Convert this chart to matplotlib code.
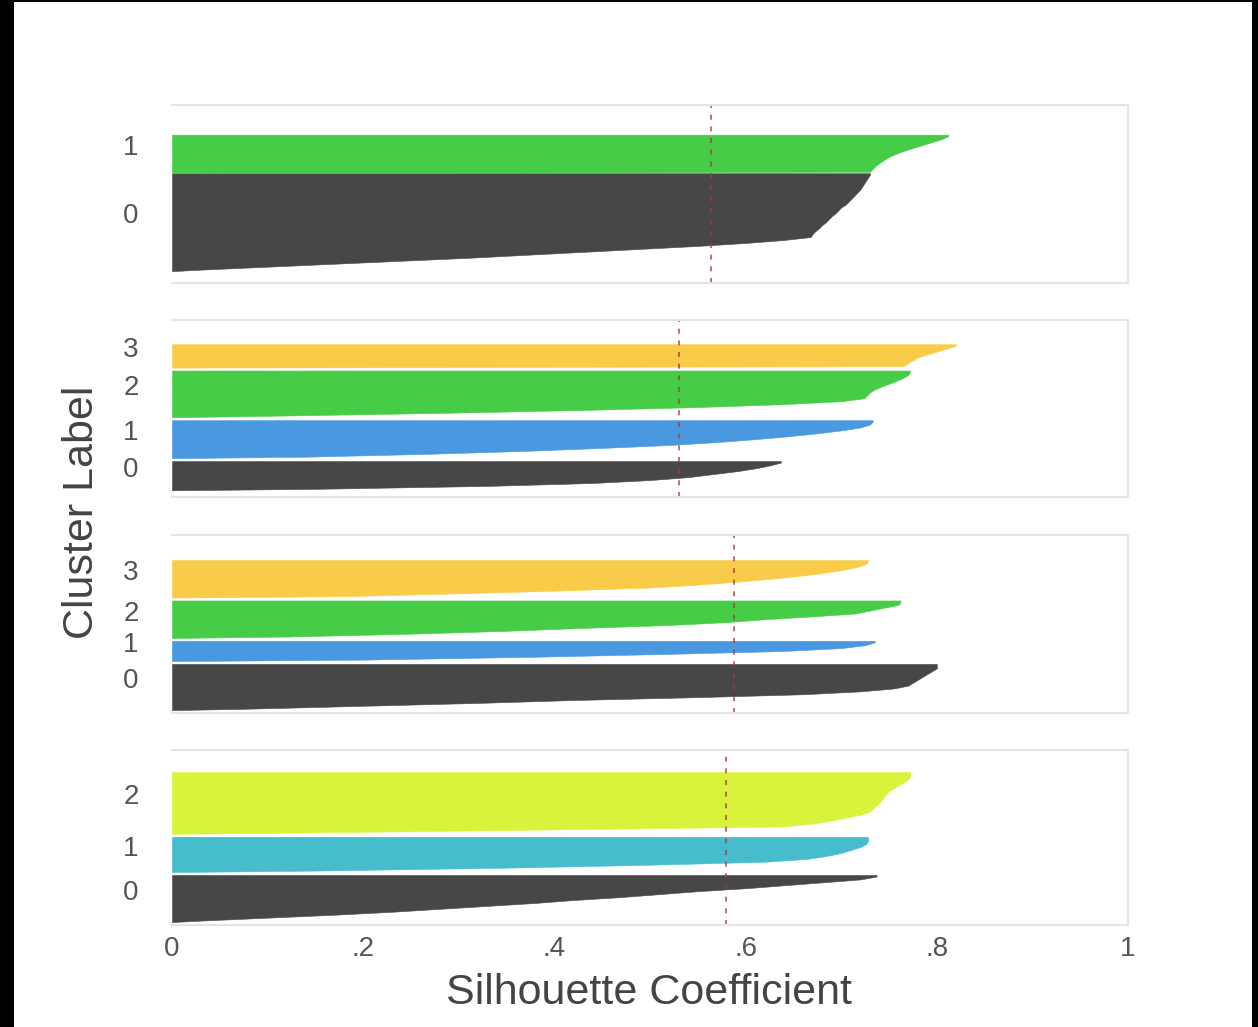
import numpy as np
import matplotlib
matplotlib.use('Agg')
import matplotlib.pyplot as plt
from matplotlib.patches import Rectangle

plt.rcParams['font.family'] = ['Liberation Sans', 'DejaVu Sans']

# silhouette values per cluster (one value per sample)
# panel 1 : k = 2
p1_c0 = [0.73, 0.728, 0.726, 0.724, 0.722, 0.72, 0.717, 0.714, 0.711, 0.708, 0.705,
         0.70, 0.697, 0.694, 0.69, 0.687, 0.684, 0.68, 0.677, 0.673, 0.67, 0.668,
         0.64, 0.60, 0.55, 0.49, 0.43, 0.37, 0.31, 0.24, 0.17, 0.10, 0.03]
p1_c1 = [0.812, 0.805, 0.795, 0.785, 0.775, 0.765, 0.757, 0.75, 0.745, 0.74, 0.736,
         0.733, 0.73]

# panel 2 : k = 4
p2_c0 = [0.637, 0.625, 0.61, 0.59, 0.565, 0.54, 0.50, 0.44, 0.33, 0.15]
p2_c1 = [0.733, 0.73, 0.72, 0.70, 0.675, 0.645, 0.61, 0.57, 0.52, 0.45, 0.37, 0.27, 0.14]
p2_c2 = [0.772, 0.77, 0.765, 0.758, 0.75, 0.742, 0.735, 0.73, 0.727, 0.724, 0.70,
         0.64, 0.55, 0.43, 0.28, 0.10]
p2_c3 = [0.82, 0.81, 0.80, 0.79, 0.78, 0.775, 0.77, 0.765]

# panel 3 : k = 4
p3_c0 = [0.80, 0.80, 0.795, 0.79, 0.785, 0.78, 0.775, 0.77, 0.755, 0.72, 0.66,
         0.55, 0.42, 0.32, 0.20, 0.08]
p3_c1 = [0.735, 0.725, 0.70, 0.64, 0.52, 0.38, 0.20]
p3_c2 = [0.762, 0.76, 0.745, 0.73, 0.715, 0.67, 0.62, 0.58, 0.52, 0.43, 0.35, 0.25, 0.12]
p3_c3 = [0.728, 0.725, 0.715, 0.70, 0.68, 0.655, 0.625, 0.59, 0.55, 0.50, 0.41, 0.30, 0.18]

# panel 4 : k = 3
p4_c0 = [0.737, 0.72, 0.68, 0.64, 0.60, 0.55, 0.51, 0.47, 0.42, 0.38, 0.33, 0.28,
         0.23, 0.17, 0.10, 0.03]
p4_c1 = [0.728, 0.728, 0.726, 0.72, 0.71, 0.70, 0.685, 0.665, 0.62, 0.50, 0.35, 0.15]
p4_c2 = [0.772, 0.772, 0.77, 0.765, 0.76, 0.755, 0.75, 0.747, 0.745, 0.742, 0.74,
         0.736, 0.733, 0.73, 0.72, 0.705, 0.69, 0.67, 0.64, 0.40, 0.15]

avg_score = [0.564, 0.53, 0.588, 0.58]

dark = '#484747'
green = '#46cc46'
yellow = '#f8cb48'
blue = '#4a98e0'
lime = '#d9f23c'
cyan = '#47bccc'

panels = [
    [(p1_c0, dark), (p1_c1, green)],
    [(p2_c0, dark), (p2_c1, blue), (p2_c2, green), (p2_c3, yellow)],
    [(p3_c0, dark), (p3_c1, blue), (p3_c2, green), (p3_c3, yellow)],
    [(p4_c0, dark), (p4_c1, cyan), (p4_c2, lime)],
]
gaps = [0, 1, 1, 1]
pads = [(4, 10), (2.3, 8.3), (1, 8.7), (1, 7.5)]

W, H = 1258, 1027
fig = plt.figure(figsize=(W / 100, H / 100), dpi=100, facecolor='black')
fig.patches.append(Rectangle((14 / W, 0), 1238 / W, 1025 / H, transform=fig.transFigure,
                             facecolor='white', edgecolor='none', zorder=-10))

# axes boxes in pixels (top, bottom)
boxes = [(105, 283), (320, 497), (535, 713), (750, 925)]
left, right = 172, 1128

for i, clusters in enumerate(panels):
    top, bot = boxes[i]
    ax = fig.add_axes([left / W, 1 - bot / H, (right - left) / W, (bot - top) / H])
    y_lower = 0
    ticks = []
    for vals, col in clusters:
        v = np.sort(np.array(vals))
        n = len(v)
        ys = np.concatenate([[y_lower], y_lower + np.arange(n) + 0.5, [y_lower + n]])
        xs = np.concatenate([[0], v, [v[-1]]])
        ax.fill_betweenx(ys, 0, xs, facecolor=col, edgecolor=col, linewidth=0.4)
        ticks.append(y_lower + n / 2 + 3)
        y_lower = y_lower + n + gaps[i]
    y_top = y_lower - gaps[i]
    ax.set_ylim(-pads[i][0], y_top + pads[i][1])
    ax.set_xlim(0, 1)
    ax.axvline(avg_score[i], color='#a83a3a', lw=1.2, ls=(0, (3, 4)), alpha=0.85)
    ax.set_yticks(ticks)
    ax.set_yticklabels([str(k) for k in range(len(clusters))])
    ax.tick_params(axis='y', length=0, pad=24, labelsize=20, labelcolor='#555555')
    for s in ax.spines.values():
        s.set_color('#e4e4e4')
        s.set_linewidth(1.5)
    ax.spines['left'].set_visible(False)
    if i == 3:
        ax.set_xticks([0, 0.2, 0.4, 0.6, 0.8, 1])
        ax.set_xticklabels(['0', '.2', '.4', '.6', '.8', '1'])
        ax.tick_params(axis='x', length=0, pad=8, labelsize=20, labelcolor='#555555')
    else:
        ax.set_xticks([])

fig.text(649 / W, 1 - 993 / H, 'Silhouette Coefficient', ha='center', va='center',
         fontsize=31, color='#444444')
fig.text(82 / W, 1 - 512 / H, 'Cluster Label', ha='center', va='center',
         rotation=90, fontsize=31, color='#444444')

fig.savefig('out.png', dpi=100, facecolor=fig.get_facecolor())
